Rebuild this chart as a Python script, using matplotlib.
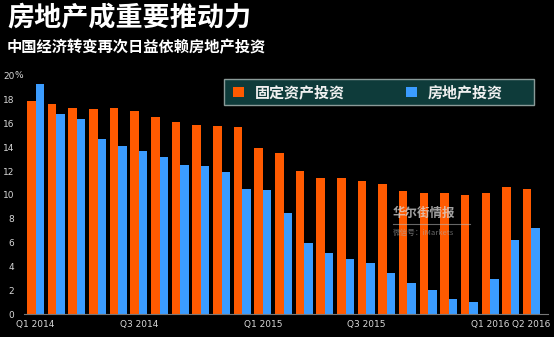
import numpy as np
import matplotlib.pyplot as plt
from matplotlib.lines import Line2D
from matplotlib.patches import Rectangle

plt.rcParams['font.family'] = ['Noto Sans CJK SC', 'DejaVu Sans']

# 累计同比增速 (%), 2014年1-2月 至 2016年4月
fixed_asset = [17.9, 17.6, 17.3, 17.2, 17.3, 17.0, 16.5, 16.1, 15.9, 15.8, 15.7,
               13.9, 13.5, 12.0, 11.4, 11.4, 11.2, 10.9, 10.3, 10.2, 10.2, 10.0,
               10.2, 10.7, 10.5]
real_estate = [19.3, 16.8, 16.4, 14.7, 14.1, 13.7, 13.2, 12.5, 12.4, 11.9, 10.5,
               10.4, 8.5, 6.0, 5.1, 4.6, 4.3, 3.5, 2.6, 2.0, 1.3, 1.0,
               3.0, 6.2, 7.2]
tick_pos = [0, 5, 11, 16, 22, 24]
tick_labels = ['Q1 2014', 'Q3 2014', 'Q1 2015', 'Q3 2015', 'Q1 2016', 'Q2 2016']
y_ticks = list(range(0, 21, 2))

ORANGE = '#ff5a00'
BLUE = '#3b9cff'
BG = '#000000'
W, H = 554, 337

fig = plt.figure(figsize=(W / 100, H / 100), dpi=100, facecolor=BG)
ax = fig.add_axes([24 / W, 1 - 314.3 / H, 524 / W, 238.6 / H])
ax.set_facecolor(BG)

x = np.arange(len(fixed_asset))
w = 0.41
ax.bar(x - w / 2, fixed_asset, w, color=ORANGE, label='固定资产投资')
ax.bar(x + w / 2, real_estate, w, color=BLUE, label='房地产投资')

ax.set_xlim(-0.56, 24.8)
ax.set_ylim(0, 20)
for s in ['top', 'right', 'left']:
    ax.spines[s].set_visible(False)
ax.spines['bottom'].set_color('#777777')
ax.spines['bottom'].set_linewidth(0.8)

ax.set_xticks(tick_pos)
ax.set_xticklabels(tick_labels, family='DejaVu Sans')
ax.set_yticks(y_ticks)
ax.set_yticklabels([str(v) for v in y_ticks], family='DejaVu Sans', ha='right')
ax.tick_params(axis='both', length=0, colors='#d8d8d8', labelsize=6.5)
ax.tick_params(axis='y', pad=7)
ax.tick_params(axis='x', pad=4)
# percent sign right after the top "20" label
ax.text(-9.4 / 524, 20, '%', transform=ax.get_yaxis_transform(), color='#d8d8d8',
        fontsize=6.5, family='DejaVu Sans', ha='left', va='center')

# legend box, drawn under the legend entries
box = Rectangle((224 / W, 1 - 105 / H), 310 / W, 26 / H,
                transform=fig.transFigure, facecolor='#0e3b3a',
                edgecolor='#8a9a98', lw=1.0, clip_on=False, zorder=4)
ax.add_patch(box)
leg = ax.legend(loc='center left', ncol=2,
                bbox_to_anchor=(230 / W, 1 - 92 / H), bbox_transform=fig.transFigure,
                frameon=False,
                prop={'family': 'Noto Sans CJK SC', 'weight': 'bold', 'size': 10.8},
                handlelength=0.7, handleheight=0.7, handletextpad=0.75,
                columnspacing=4.1, borderpad=0.2, borderaxespad=0)
leg.set_zorder(6)
for t in leg.get_texts():
    t.set_color('#f0f0f0')

fig.text(7 / W, 1 - 17 / H, '房地产成重要推动力', color='white', fontsize=19.5,
         weight='bold', va='center', ha='left')
fig.text(7 / W, 1 - 47 / H, '中国经济转变再次日益依赖房地产投资', color='white',
         fontsize=11, weight='bold', va='center', ha='left')

# watermark
fig.text(393 / W, 1 - 213 / H, '华尔街情报', color='#d8d8d8', alpha=0.75,
         fontsize=9, weight='bold', va='center', ha='left')
fig.add_artist(Line2D([393 / W, 470 / W], [1 - 224 / H, 1 - 224 / H],
                      color='#bbbbbb', alpha=0.55, lw=0.8))
fig.text(393 / W, 1 - 233 / H, '微信号：iMarkets', color='#aaaaaa', alpha=0.6,
         fontsize=5.5, va='center', ha='left')

fig.savefig('out.png', dpi=100, facecolor=BG)
